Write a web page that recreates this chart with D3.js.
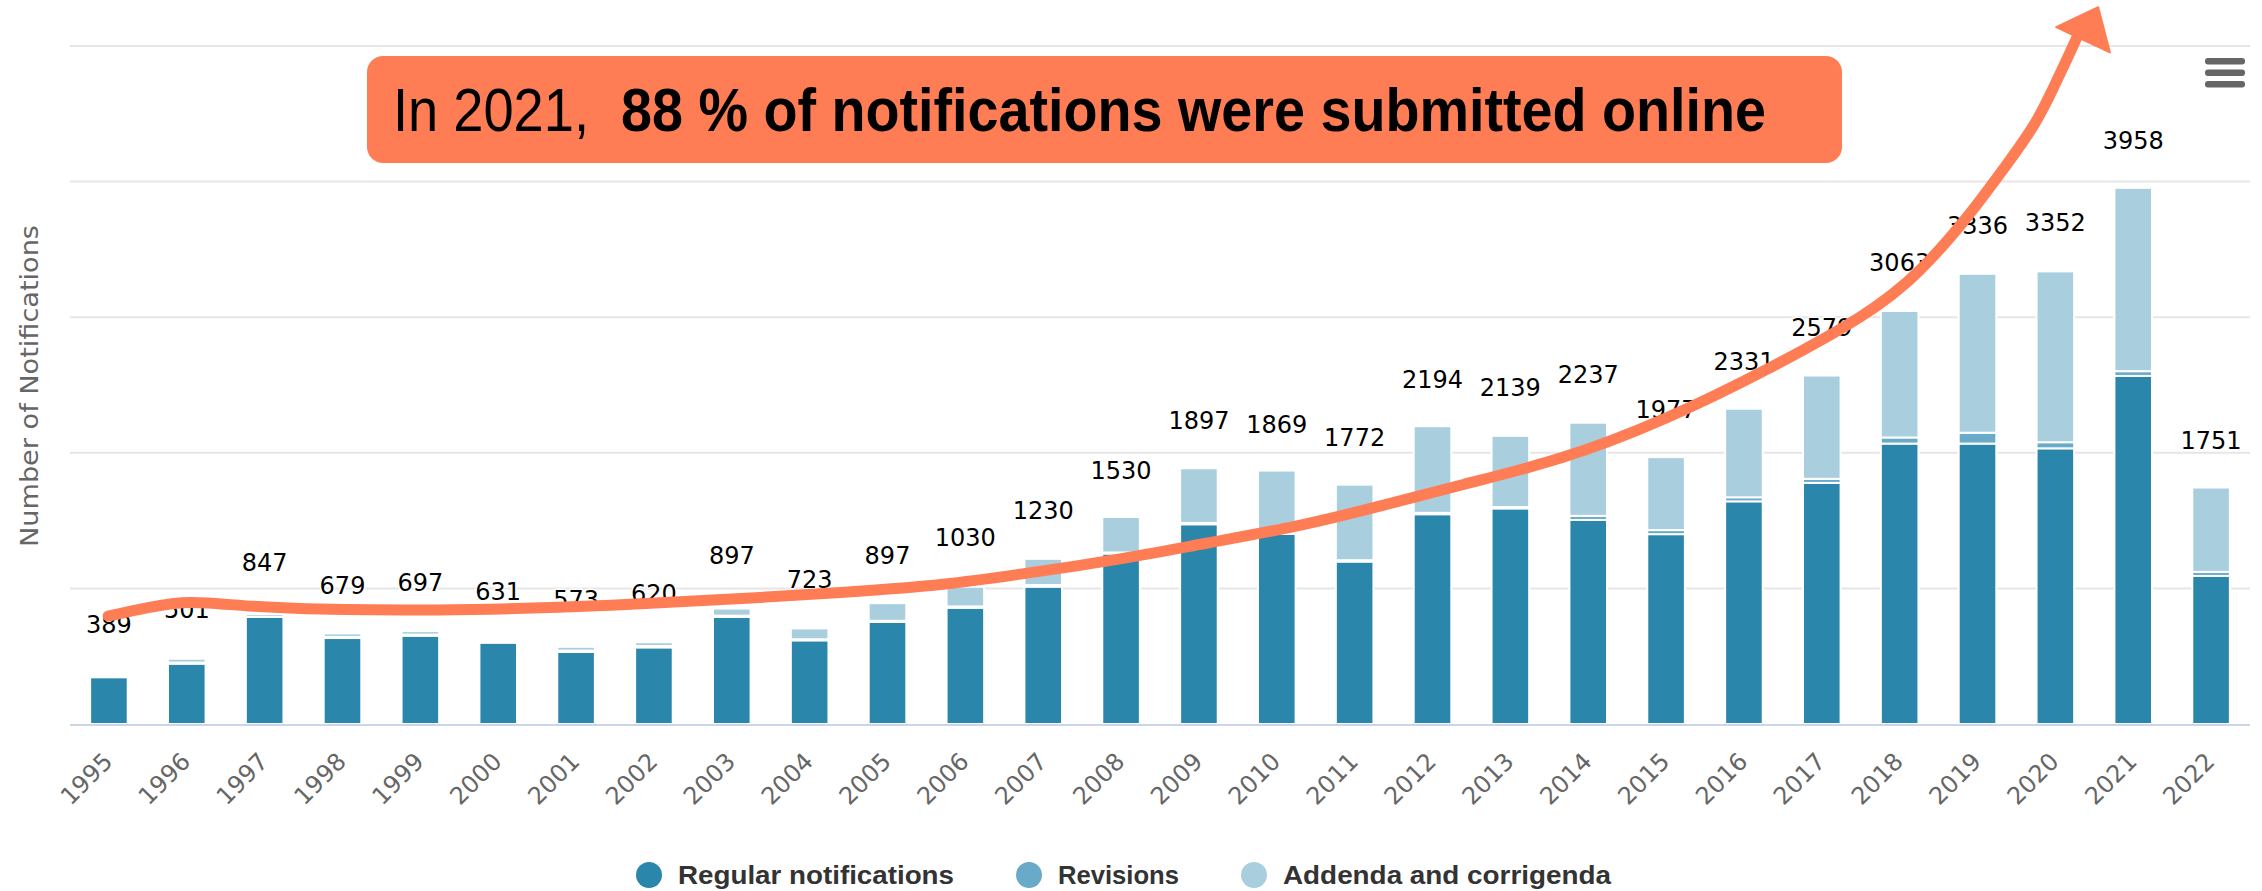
<!DOCTYPE html>
<html><head><meta charset="utf-8">
<script src="https://cdn.jsdelivr.net/npm/d3@7"></script>
<style>body{margin:0;background:#fff;} svg{display:block;}</style>
</head><body>
<svg id="chart" width="2262" height="891"></svg>
<script>
// ---------- data ----------
const years = ["1995","1996","1997","1998","1999","2000","2001","2002","2003","2004","2005","2006","2007","2008","2009","2010","2011","2012","2013","2014","2015","2016","2017","2018","2019","2020","2021","2022"];
const regular   = [344,445,790,634,651,600,531,565,789,617,753,857,1013,1257,1473,1403,1198,1547,1590,1505,1400,1642,1778,2068,2068,2033,2567,1092];
const revisions = [0,8,0,8,8,0,10,10,10,8,8,10,12,8,10,8,10,10,10,30,30,30,30,45,80,45,35,30];
const addenda   = [0,28,20,26,26,4,28,28,52,80,130,145,193,262,403,458,557,639,525,687,538,653,762,933,1172,1260,1352,622];
const totalLabels = [389,501,847,679,697,631,573,620,897,723,897,1030,1230,1530,1897,1869,1772,2194,2139,2237,1977,2331,2579,3063,3336,3352,3958,1751];
const yTicks = [0,1000,2000,3000,4000,5000];
const seriesKeys = ["regular","revisions","addenda"];
const seriesNames = ["Regular notifications","Revisions","Addenda and corrigenda"];
const seriesColors = ["#2b86ac","#68aac7","#a9cfdf"];
const yTitle = "Number of Notifications";
const annotationNormal = "In 2021,";
const annotationBold = "88 % of notifications were submitted online";
// hand-drawn trend arrow, in (category index, value) units
const trendArrow = [[-0.01,796],[0.5,860],[1.02,914],[1.80,863],[2.94,840],[4.66,840],[6.38,870],[8.49,936],[9.50,973],[10.74,1025],[11.80,1113],[12.95,1209],[14.09,1334],[15.25,1452],[16.39,1615],[17.35,1762],[18.66,1946],[19.99,2241],[21.30,2610],[22.61,3023],[23.26,3325],[23.92,3767],[24.35,4106],[24.75,4420],[25.00,4720],[25.19,4954],[25.32,5117]];
const arrowHead = [[25.55,5286],[25.01,5139],[25.70,4954]];

// ---------- layout ----------
const W = 2262, H = 891;
const plot = {left: 70, right: 2250, top: 46, bottom: 724};
const svg = d3.select("#chart");

const x = d3.scaleBand().domain(years).range([plot.left, plot.right]).paddingInner(0.53).paddingOuter(0.265);
const y = d3.scaleLinear().domain([0, 5000]).range([plot.bottom, plot.top]);
const xi = i => plot.left + x.step() * (i + 0.5);

const table = years.map((yr, i) => ({year: yr, regular: regular[i], revisions: revisions[i], addenda: addenda[i]}));
const stacked = d3.stack().keys(seriesKeys)(table);

// gridlines
svg.append("g").selectAll("line").data(yTicks.filter(t => t > 0)).join("line")
  .attr("x1", plot.left).attr("x2", plot.right)
  .attr("y1", d => y(d)).attr("y2", d => y(d))
  .attr("stroke", "#e6e6e6").attr("stroke-width", 2);

// bars
const gBars = svg.append("g");
stacked.forEach((s, si) => {
  gBars.append("g").attr("fill", seriesColors[si])
    .selectAll("rect").data(s).join("rect")
    .attr("x", d => x(d.data.year) - 0.5)
    .attr("width", x.bandwidth() + 1)
    .attr("y", d => y(d[1]))
    .attr("height", d => Math.max(0, y(d[0]) - y(d[1])))
    .attr("stroke", d => (d[1] - d[0]) > 0 ? "#ffffff" : "none")
    .attr("stroke-width", 2);
});

// x axis line
svg.append("line").attr("x1", plot.left).attr("x2", plot.right)
  .attr("y1", y(0) + 1).attr("y2", y(0) + 1)
  .attr("stroke", "#ccd6eb").attr("stroke-width", 2);

// x labels
svg.append("g").selectAll("text").data(years).join("text")
  .attr("transform", d => `translate(${x(d) + x.bandwidth()/2 + 5},763) rotate(-45)`)
  .attr("text-anchor", "end")
  .attr("font-family", "DejaVu Sans, Verdana, sans-serif")
  .attr("font-size", 24)
  .attr("fill", "#666666")
  .text(d => d);

// y title
svg.append("text")
  .attr("transform", "translate(38,386) rotate(-90)")
  .attr("text-anchor", "middle")
  .attr("font-family", "DejaVu Sans, Verdana, sans-serif")
  .attr("font-size", 25)
  .attr("fill", "#666666")
  .attr("textLength", 322).attr("lengthAdjust", "spacingAndGlyphs")
  .text(yTitle);

// stack labels
svg.append("g").selectAll("text").data(totalLabels).join("text")
  .attr("x", (d, i) => x(years[i]) + x.bandwidth()/2)
  .attr("y", d => y(d) - 38)
  .attr("text-anchor", "middle")
  .attr("font-family", "DejaVu Sans, Verdana, sans-serif")
  .attr("font-size", 24)
  .attr("fill", "#000")
  .attr("stroke", "#fff").attr("stroke-width", 3).attr("paint-order", "stroke")
  .attr("stroke-linejoin", "round")
  .text(d => d);

// legend
const legendX = [649, 1029, 1254];
const legendTextLen = [276, 121, 328];
const gLeg = svg.append("g");
seriesNames.forEach((name, i) => {
  gLeg.append("circle").attr("cx", legendX[i]).attr("cy", 875).attr("r", 13).attr("fill", seriesColors[i]);
  gLeg.append("text").attr("x", legendX[i] + 29).attr("y", 884)
    .attr("font-family", "Liberation Sans, Arial, sans-serif")
    .attr("font-weight", "bold").attr("font-size", 25).attr("fill", "#333333")
    .attr("textLength", legendTextLen[i]).attr("lengthAdjust", "spacingAndGlyphs")
    .text(name);
});

// menu icon
svg.append("g").selectAll("rect").data([0,1,2]).join("rect")
  .attr("x", 2205).attr("y", d => 58 + d * 11.5).attr("width", 40).attr("height", 6.5)
  .attr("rx", 3).attr("fill", "#666666");

// annotation box
const coral = "#ff7d55";
svg.append("rect").attr("x", 367).attr("y", 56).attr("width", 1475).attr("height", 107)
  .attr("rx", 16).attr("fill", coral);
svg.append("text").attr("x", 393).attr("y", 131)
  .attr("font-family", "Liberation Sans Narrow, Liberation Sans, Arial, sans-serif")
  .attr("font-size", 62).attr("fill", "#000")
  .attr("textLength", 196).attr("lengthAdjust", "spacingAndGlyphs")
  .text(annotationNormal);
svg.append("text").attr("x", 621).attr("y", 131)
  .attr("font-family", "Liberation Sans Narrow, Liberation Sans, Arial, sans-serif")
  .attr("font-weight", "bold")
  .attr("font-size", 62).attr("fill", "#000")
  .attr("textLength", 1145).attr("lengthAdjust", "spacingAndGlyphs")
  .text(annotationBold);

// trend arrow
const line = d3.line().x(d => xi(d[0])).y(d => y(d[1])).curve(d3.curveBasis);
svg.append("path").attr("d", line(trendArrow))
  .attr("fill", "none").attr("stroke", coral).attr("stroke-width", 11)
  .attr("stroke-linecap", "round").attr("stroke-linejoin", "round");
svg.append("path")
  .attr("d", "M" + arrowHead.map(d => [xi(d[0]), y(d[1])].join(",")).join("L") + "Z")
  .attr("fill", coral).attr("stroke", coral).attr("stroke-width", 2).attr("stroke-linejoin", "round");
</script>
</body></html>
